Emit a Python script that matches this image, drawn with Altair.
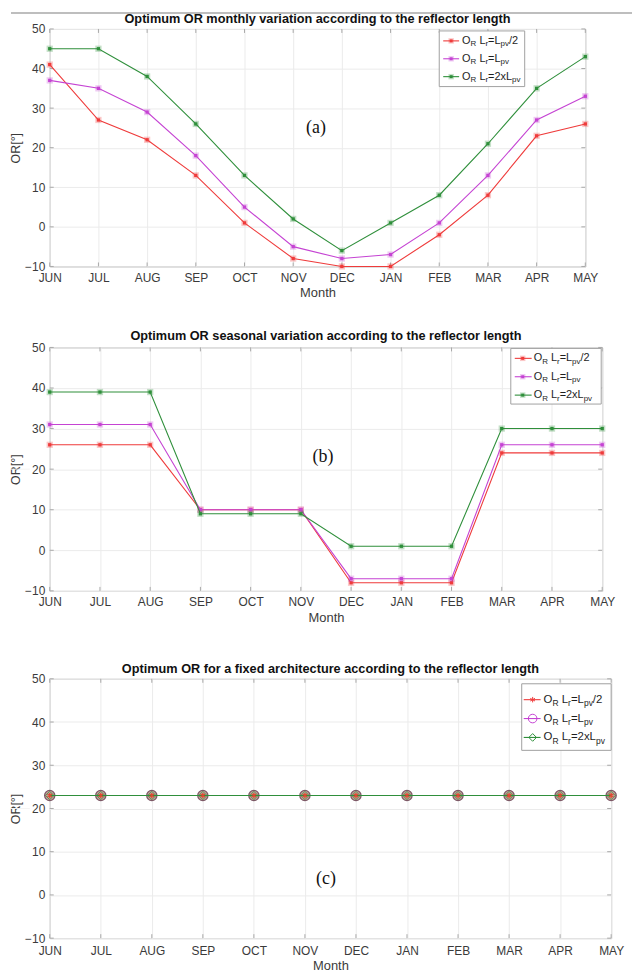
import altair as alt
import pandas as pd

# ---------------- data ----------------
months = ["JUN", "JUL", "AUG", "SEP", "OCT", "NOV", "DEC", "JAN", "FEB", "MAR", "APR", "MAY"]
y_ticks = [-10, 0, 10, 20, 30, 40, 50]

series_keys = ["half", "equal", "double"]
series_colors = ["#ef3b3b", "#c543d3", "#2f8f3b"]

monthly_half = [41, 27, 22, 13, 1, -8, -10, -10, -2, 8, 23, 26]
monthly_equal = [37, 35, 29, 18, 5, -5, -8, -7, 1, 13, 27, 33]
monthly_double = [45, 45, 38, 26, 13, 2, -6, 1, 8, 21, 35, 43]

seasonal_half = [26, 26, 26, 10, 10, 10, -8, -8, -8, 24, 24, 24]
seasonal_equal = [31, 31, 31, 10, 10, 10, -7, -7, -7, 26, 26, 26]
seasonal_double = [39, 39, 39, 9, 9, 9, 1, 1, 1, 30, 30, 30]

fixed_half = [23, 23, 23, 23, 23, 23, 23, 23, 23, 23, 23, 23]
fixed_equal = [23, 23, 23, 23, 23, 23, 23, 23, 23, 23, 23, 23]
fixed_double = [23, 23, 23, 23, 23, 23, 23, 23, 23, 23, 23, 23]

titles = [
    "Optimum OR monthly variation according to the reflector length",
    "Optimum OR seasonal variation according to the reflector length",
    "Optimum OR for a fixed architecture according to the reflector length",
]
panel_labels = ["(a)", "(b)", "(c)"]
x_title = "Month"
y_title = "OR[°]"

# legend text pieces: (text, is_subscript)
legend_pieces = [
    [("O", False), ("R", True), (" ", False), ("L", False), ("r", True), ("=L", False), ("pv", True), ("/2", False)],
    [("O", False), ("R", True), (" ", False), ("L", False), ("r", True), ("=L", False), ("pv", True)],
    [("O", False), ("R", True), (" ", False), ("L", False), ("r", True), ("=2xL", False), ("pv", True)],
]

# ---------------- style ----------------
FONT = "Liberation Sans"
SERIF = "Liberation Serif"
BOX = "#a8a8a8"
TXT = "#3a3a3a"
ASTERISK = "M0,-1L0,1M-0.87,-0.5L0.87,0.5M-0.87,0.5L0.87,-0.5"

EM = {"O": .778, "R": .722, "L": .556, "r": .333, "=": .584, "p": .556, "v": .5,
      "/": .278, "2": .556, "x": .5, " ": .278}


def tw(s, fs):
    return sum(EM.get(ch, .55) for ch in s) * fs


def legend_text_df(x0, rows, fs, sfs):
    recs = []
    for row_y, pieces in zip(rows, legend_pieces):
        x = x0
        for txt, sub in pieces:
            size = sfs if sub else fs
            if txt.strip():
                recs.append({"px": x, "py": row_y + (3.5 if sub else 0), "t": txt, "fs": size})
            x += tw(txt, size)
    return pd.DataFrame(recs)


def make_panel(idx, vals, W, H, title_y, leg, lab_pos, lab_pad, t_pad, fixed=False, top_rule=False):
    xenc = alt.X("month:N", sort=months, scale=alt.Scale(type="point", padding=0),
                 axis=alt.Axis(title=x_title, labelAngle=0, ticks=False, domain=False, grid=True,
                               labelPadding=lab_pad, titlePadding=t_pad))
    yenc = alt.Y("value:Q", scale=alt.Scale(domain=[-10, 50], nice=False, zero=False),
                 axis=alt.Axis(title=y_title, values=y_ticks, ticks=False, domain=False, grid=True,
                               labelPadding=5, titlePadding=2.5, titleFontSize=12.5))
    mdf = pd.DataFrame({"month": months})
    ydf = pd.DataFrame({"value": y_ticks})
    one = pd.DataFrame({"a": [0]})

    layers = []
    # page rules / left alignment helper (drawn first)
    if top_rule:
        layers.append(alt.Chart(one).mark_rule(color="#a9a9a9", strokeWidth=1.6).encode(
            x=alt.value(-39), x2=alt.value(586), y=alt.value(-16)))
    else:
        layers.append(alt.Chart(one).mark_rule(color="#f4f4f4", strokeWidth=1).encode(
            x=alt.value(-39.75), x2=alt.value(-20), y=alt.value(H / 2)))

    # inward ticks (MATLAB box style)
    layers.append(alt.Chart(mdf).mark_rule(color=BOX, strokeWidth=1).encode(
        x=xenc, y=alt.value(0), y2=alt.value(4)))
    layers.append(alt.Chart(mdf).mark_rule(color=BOX, strokeWidth=1).encode(
        x=xenc, y=alt.value(H - 4), y2=alt.value(H)))
    layers.append(alt.Chart(ydf).mark_rule(color=BOX, strokeWidth=1).encode(
        y=yenc, x=alt.value(0), x2=alt.value(4)))
    layers.append(alt.Chart(ydf).mark_rule(color=BOX, strokeWidth=1).encode(
        y=yenc, x=alt.value(W - 4), x2=alt.value(W)))

    dfs = [pd.DataFrame({"month": months, "value": v}) for v in vals]
    if not fixed:
        for df, c in zip(dfs, series_colors):
            base = alt.Chart(df).encode(x=xenc, y=yenc)
            layers.append(base.mark_line(color=c, strokeWidth=1.1))
            layers.append(base.mark_point(shape="square", filled=True, size=40, color=c, opacity=0.28))
            layers.append(base.mark_point(shape="square", filled=True, size=11, color=c, opacity=1))
    else:
        layers.append(alt.Chart(dfs[1]).mark_point(shape="circle", filled=True, size=105,
                                                    fill="#c4a098", stroke="#7d5866",
                                                    strokeWidth=1.3, opacity=1).encode(x=xenc, y=yenc))
        for df, c in zip(dfs, series_colors):
            layers.append(alt.Chart(df).mark_line(color=c, strokeWidth=1.1).encode(x=xenc, y=yenc))
        layers.append(alt.Chart(dfs[2]).mark_point(shape="diamond", filled=False, size=70,
                                                    color=series_colors[2], strokeWidth=0.9,
                                                    opacity=0.8).encode(x=xenc, y=yenc))
        layers.append(alt.Chart(dfs[0]).mark_point(shape=ASTERISK, filled=False, size=28,
                                                    color="#e2452e", strokeWidth=1.2,
                                                    opacity=1).encode(x=xenc, y=yenc))

    # legend box
    bx1, by1, bx2, by2 = leg["box"]
    layers.append(alt.Chart(one).mark_rect(fill="white", stroke="#a0a0a0", strokeWidth=1).encode(
        x=alt.value(bx1), x2=alt.value(bx2), y=alt.value(by1), y2=alt.value(by2)))
    lx1, lx2 = leg["line"]
    samp = pd.DataFrame({"x1": [lx1] * 3, "x2": [lx2] * 3, "y": leg["rows"],
                         "mx": [leg["mx"]] * 3, "c": series_colors})
    layers.append(alt.Chart(samp).mark_rule(strokeWidth=1.1).encode(
        x=alt.X("x1:Q", scale=None), x2="x2:Q", y=alt.Y("y:Q", scale=None),
        color=alt.Color("c:N", scale=None)))
    if not fixed:
        layers.append(alt.Chart(samp).mark_point(shape="square", filled=True, size=30, opacity=0.28).encode(
            x=alt.X("mx:Q", scale=None), y=alt.Y("y:Q", scale=None), color=alt.Color("c:N", scale=None)))
        layers.append(alt.Chart(samp).mark_point(shape="square", filled=True, size=9, opacity=1).encode(
            x=alt.X("mx:Q", scale=None), y=alt.Y("y:Q", scale=None), color=alt.Color("c:N", scale=None)))
    else:
        samp2 = samp.assign(sh=[ASTERISK, "circle", "diamond"], sz=[30, 75, 60])
        layers.append(alt.Chart(samp2).mark_point(filled=False, strokeWidth=1, opacity=1).encode(
            x=alt.X("mx:Q", scale=None), y=alt.Y("y:Q", scale=None), color=alt.Color("c:N", scale=None),
            shape=alt.Shape("sh:N", scale=None), size=alt.Size("sz:Q", scale=None)))
    tdf = legend_text_df(leg["tx"], leg["rows"], leg["fs"], leg["sfs"])
    layers.append(alt.Chart(tdf).mark_text(align="left", baseline="middle", font=FONT, color="#1e1e1e").encode(
        x=alt.X("px:Q", scale=None), y=alt.Y("py:Q", scale=None), text="t:N",
        size=alt.Size("fs:Q", scale=None)))

    # panel label (a)/(b)/(c)
    layers.append(alt.Chart(one).mark_text(text=panel_labels[idx], font=SERIF, fontSize=18, color="#111",
                                           align="center", baseline="middle").encode(
        x=alt.value(lab_pos[0]), y=alt.value(lab_pos[1])))

    # panel title as text
    layers.append(alt.Chart(one).mark_text(text=titles[idx], font=FONT, fontSize=12.8, fontWeight="bold",
                                           color="#111", align="center", baseline="middle").encode(
        x=alt.value(W / 2), y=alt.value(title_y)))

    return alt.layer(*layers).properties(width=W, height=H)


pa = make_panel(0, [monthly_half, monthly_equal, monthly_double], 539, 239, -9.5,
                {"box": (392, 2, 478, 58), "rows": [12, 30, 48], "line": (396, 412), "mx": 404,
                 "tx": 415, "fs": 11, "sfs": 8}, (268, 100), 6, 3, top_rule=True)
pb = make_panel(1, [seasonal_half, seasonal_equal, seasonal_double], 556, 245, -11,
                {"box": (464, 1, 555, 57), "rows": [11, 29.5, 48], "line": (468, 485), "mx": 476,
                 "tx": 487, "fs": 11, "sfs": 8}, (275, 110), 6, 4)
pc = make_panel(2, [fixed_half, fixed_equal, fixed_double], 565, 261, -10,
                {"box": (475, 5, 565, 72), "rows": [21, 40, 59], "line": (477, 494), "mx": 486,
                 "tx": 497, "fs": 11.5, "sfs": 8.5}, (278, 202), 7, 3.5, fixed=True)

chart = alt.vconcat(alt.vconcat(pa, pb, spacing=29.5), pc, spacing=37).properties(
    padding={"left": 0, "top": 0, "right": 0, "bottom": 0}, background="white"
).configure_view(stroke=BOX, strokeWidth=1).configure_axis(
    labelFont=FONT, labelFontSize=12, labelColor=TXT, titleFont=FONT, titleFontSize=13,
    titleFontWeight="normal", titleColor=TXT, gridColor="#ebebeb", gridWidth=1
)

chart.save("out.html", embed_options={"renderer": "svg", "actions": False})
